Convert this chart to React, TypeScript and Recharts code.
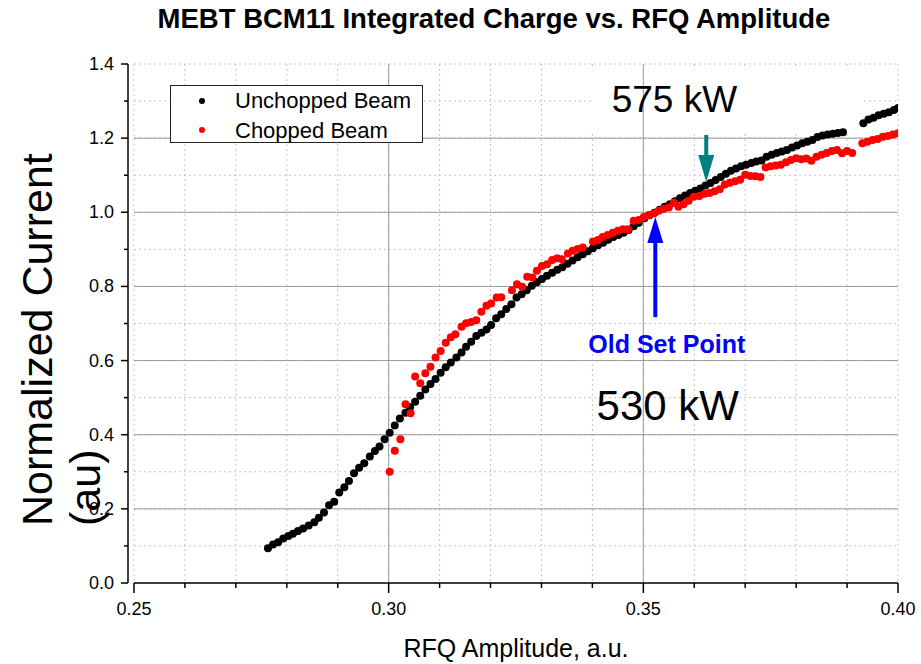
import React from 'react';
import {
  ScatterChart, Scatter, XAxis, YAxis, CartesianGrid, ReferenceLine, ReferenceDot, ReferenceArea, Legend,
} from 'recharts';

// [RFQ amplitude, normalized current]
const unchoppedBeam: [number, number][] = [
  [0.2763, 0.094], [0.2773, 0.104], [0.2783, 0.110], [0.2793, 0.120], [0.2803, 0.127], [0.2812, 0.133],
  [0.2822, 0.140], [0.2832, 0.147], [0.2843, 0.155], [0.2854, 0.164], [0.2863, 0.176], [0.2873, 0.190],
  [0.2883, 0.210], [0.2893, 0.219], [0.2903, 0.244], [0.2913, 0.258], [0.2922, 0.275], [0.2932, 0.296],
  [0.2942, 0.311], [0.2952, 0.323], [0.2963, 0.341], [0.2973, 0.356], [0.2982, 0.368], [0.2992, 0.388],
  [0.3002, 0.405], [0.3012, 0.425], [0.3022, 0.444], [0.3033, 0.459], [0.3042, 0.474], [0.3052, 0.489],
  [0.3062, 0.505], [0.3072, 0.522], [0.3082, 0.537], [0.3092, 0.550], [0.3102, 0.567], [0.3112, 0.582],
  [0.3122, 0.595], [0.3133, 0.608], [0.3143, 0.622], [0.3152, 0.637], [0.3162, 0.651], [0.3172, 0.666],
  [0.3182, 0.675], [0.3192, 0.684], [0.3201, 0.696], [0.3211, 0.714], [0.3221, 0.725], [0.3231, 0.739],
  [0.3241, 0.752], [0.3251, 0.770], [0.3261, 0.779], [0.3271, 0.790], [0.3281, 0.802], [0.3291, 0.811],
  [0.3301, 0.820], [0.3311, 0.829], [0.3321, 0.837], [0.3331, 0.845], [0.3341, 0.852], [0.3351, 0.861],
  [0.3361, 0.870], [0.3371, 0.879], [0.3381, 0.887], [0.3391, 0.895], [0.3401, 0.903], [0.3411, 0.911],
  [0.3421, 0.918], [0.3431, 0.926], [0.3441, 0.933], [0.3451, 0.939], [0.3461, 0.945], [0.3471, 0.952],
  [0.3481, 0.962], [0.3491, 0.972], [0.3502, 0.984], [0.3512, 0.992], [0.3522, 0.999], [0.3532, 1.007],
  [0.3542, 1.015], [0.3552, 1.022], [0.3562, 1.030], [0.3572, 1.038], [0.3582, 1.045], [0.3592, 1.052],
  [0.3602, 1.058], [0.3612, 1.064], [0.3622, 1.072], [0.3632, 1.079], [0.3642, 1.087], [0.3652, 1.095],
  [0.3662, 1.104], [0.3672, 1.112], [0.3682, 1.118], [0.3692, 1.124], [0.3702, 1.128], [0.3712, 1.133],
  [0.3722, 1.137], [0.3732, 1.140], [0.3742, 1.150], [0.3752, 1.155], [0.3762, 1.160], [0.3772, 1.164],
  [0.3782, 1.168], [0.3792, 1.175], [0.3802, 1.180], [0.3812, 1.186], [0.3822, 1.190], [0.3832, 1.195],
  [0.3842, 1.203], [0.3852, 1.207], [0.3862, 1.210], [0.3872, 1.212], [0.3882, 1.214], [0.3892, 1.216],
  [0.3932, 1.240], [0.3942, 1.250], [0.3952, 1.255], [0.3962, 1.262], [0.3972, 1.266], [0.3982, 1.270],
  [0.3992, 1.276], [0.4000, 1.281],
];

const choppedBeam: [number, number][] = [
  [0.3002, 0.300], [0.3012, 0.357], [0.3023, 0.388], [0.3033, 0.482], [0.3043, 0.458], [0.3052, 0.557],
  [0.3062, 0.539], [0.3072, 0.566], [0.3082, 0.583], [0.3092, 0.608], [0.3102, 0.626], [0.3112, 0.648],
  [0.3122, 0.663], [0.3131, 0.671], [0.3143, 0.691], [0.3152, 0.701], [0.3162, 0.704], [0.3172, 0.709],
  [0.3182, 0.732], [0.3192, 0.748], [0.3201, 0.754], [0.3212, 0.770], [0.3221, 0.771], [0.3242, 0.790],
  [0.3252, 0.806], [0.3262, 0.799], [0.3272, 0.826], [0.3282, 0.824], [0.3291, 0.842], [0.3301, 0.855],
  [0.3311, 0.860], [0.3321, 0.871], [0.3331, 0.876], [0.3340, 0.873], [0.3352, 0.889], [0.3361, 0.896],
  [0.3371, 0.901], [0.3381, 0.905], [0.3401, 0.921], [0.3411, 0.925], [0.3420, 0.933], [0.3430, 0.939],
  [0.3440, 0.945], [0.3450, 0.950], [0.3460, 0.954], [0.3470, 0.954], [0.3481, 0.977], [0.3491, 0.979],
  [0.3501, 0.987], [0.3511, 0.993], [0.3520, 0.997], [0.3530, 1.004], [0.3540, 1.009], [0.3550, 1.013],
  [0.3560, 1.026], [0.3569, 1.015], [0.3579, 1.022], [0.3589, 1.031], [0.3599, 1.042], [0.3610, 1.044],
  [0.3620, 1.050], [0.3630, 1.052], [0.3640, 1.057], [0.3650, 1.062], [0.3660, 1.075], [0.3670, 1.080],
  [0.3680, 1.084], [0.3690, 1.088], [0.3700, 1.101], [0.3710, 1.098], [0.3720, 1.097], [0.3730, 1.095],
  [0.3740, 1.121], [0.3750, 1.124], [0.3760, 1.126], [0.3770, 1.128], [0.3780, 1.135], [0.3790, 1.141],
  [0.3800, 1.146], [0.3810, 1.143], [0.3820, 1.145], [0.3830, 1.139], [0.3840, 1.150], [0.3850, 1.155],
  [0.3860, 1.160], [0.3870, 1.165], [0.3880, 1.168], [0.3890, 1.159], [0.3900, 1.165], [0.3910, 1.160],
  [0.3930, 1.186], [0.3940, 1.190], [0.3950, 1.195], [0.3960, 1.198], [0.3970, 1.204], [0.3980, 1.206],
  [0.3990, 1.210], [0.4000, 1.213],
];

const xTicks = [0.25, 0.26, 0.27, 0.28, 0.29, 0.3, 0.31, 0.32, 0.33, 0.34, 0.35, 0.36, 0.37, 0.38, 0.39, 0.4];
const yTicks = [0, 0.1, 0.2, 0.3, 0.4, 0.5, 0.6, 0.7, 0.8, 0.9, 1.0, 1.1, 1.2, 1.3, 1.4];
const xMajorGrid = [0.3, 0.35];
const yMajorGrid = [0.2, 0.4, 0.6, 0.8, 1.0, 1.2];

const FONT = '"Liberation Sans", Arial, sans-serif';

const toPoints = (rows: [number, number][]) => rows.map(([x, y]) => ({ x, y }));

const isMajorX = (v: number) => Math.round(v * 100) % 5 === 0;
const isMajorY = (v: number) => Math.round(v * 10) % 2 === 0;

const BottomTick = (props: any) => {
  const { x, y, payload } = props;
  const major = isMajorX(payload.value);
  return (
    <g>
      <line x1={x} x2={x} y1={y} y2={y + (major ? 10 : 5)} stroke="#000" strokeWidth={1.5} />
      {major && (
        <text x={x} y={y + 32} textAnchor="middle" fontSize={18} fill="#000">
          {payload.value.toFixed(2)}
        </text>
      )}
    </g>
  );
};

const TopTick = (props: any) => {
  const { x, y, payload } = props;
  const major = isMajorX(payload.value);
  return <line x1={x} x2={x} y1={y} y2={y + (major ? 9 : 5)} stroke="#000" strokeWidth={1.5} />;
};

const LeftTick = (props: any) => {
  const { x, y, payload } = props;
  const major = isMajorY(payload.value);
  const ax = x - 6;
  return (
    <g>
      <line x1={ax} x2={ax - (major ? 7 : 4)} y1={y} y2={y} stroke="#000" strokeWidth={1.5} />
      {major && (
        <text x={ax - 14} y={y + 6} textAnchor="end" fontSize={18} fill="#000">
          {payload.value.toFixed(1)}
        </text>
      )}
    </g>
  );
};

const RightTick = (props: any) => {
  const { x, y, payload } = props;
  const major = isMajorY(payload.value);
  return <line x1={x} x2={x - (major ? 8 : 4)} y1={y} y2={y} stroke="#000" strokeWidth={1.5} />;
};

const dot = (color: string) => (p: any) => <circle cx={p.cx} cy={p.cy} r={4} fill={color} />;

const UpArrow = (p: any) => (
  <g>
    <line x1={p.cx} x2={p.cx} y1={p.cy + 24} y2={p.cy + 100} stroke="#0000ff" strokeWidth={4} />
    <polygon points={`${p.cx},${p.cy} ${p.cx - 8},${p.cy + 26} ${p.cx + 8},${p.cy + 26}`} fill="#0000ff" />
  </g>
);

const DownArrow = (p: any) => (
  <g>
    <line x1={p.cx} x2={p.cx} y1={p.cy - 25} y2={p.cy - 47} stroke="#008080" strokeWidth={4} />
    <polygon points={`${p.cx},${p.cy} ${p.cx - 8},${p.cy - 27} ${p.cx + 8},${p.cy - 27}`} fill="#008080" />
  </g>
);

const LegendBox = () => (
  <svg width={253} height={58} style={{ display: 'block' }}>
    <rect x={0.5} y={0.5} width={252} height={57} fill="#fff" stroke="#222" strokeWidth={1} />
    <circle cx={32} cy={16} r={3} fill="#000" />
    <text x={65} y={23} fontSize={22} fill="#000">Unchopped Beam</text>
    <circle cx={32} cy={45} r={3} fill="#ff0000" />
    <text x={65} y={53} fontSize={22} fill="#000">Chopped Beam</text>
  </svg>
);

export default function App() {
  const unchopped = toPoints(unchoppedBeam);
  const chopped = toPoints(choppedBeam);
  return (
    <div style={{ position: 'absolute', left: 0, top: 0, width: 921, height: 664, background: '#fff', fontFamily: FONT }}>
      <ScatterChart width={921} height={664} margin={{ top: 64, right: 23, bottom: 0, left: 0 }}>
        <CartesianGrid stroke="#c4c4c4" strokeDasharray="2 3" />
        {xMajorGrid.map((v) => (
          <ReferenceLine key={`gx${v}`} x={v} stroke="#9a9a9a" strokeWidth={1} />
        ))}
        {yMajorGrid.map((v) => (
          <ReferenceLine key={`gy${v}`} y={v} stroke="#9a9a9a" strokeWidth={1} />
        ))}
        <XAxis
          type="number" dataKey="x" domain={[0.25, 0.4]} ticks={xTicks} interval={0} height={81}
          tickSize={0} tickMargin={0} tickLine={false} tick={<BottomTick />}
          axisLine={{ stroke: '#000', strokeWidth: 1.5 }} allowDataOverflow
          label={{ value: 'RFQ Amplitude, a.u.', position: 'insideBottom', offset: 7, fontSize: 25, fill: '#000' }}
        />
        <XAxis
          xAxisId="top" orientation="top" type="number" domain={[0.25, 0.4]} ticks={xTicks} interval={0} height={0}
          tickSize={0} tickMargin={0} tickLine={false} tick={<TopTick />}
          axisLine={{ stroke: '#000', strokeWidth: 1.5 }} allowDataOverflow
        />
        <YAxis
          type="number" dataKey="y" domain={[0, 1.4]} ticks={yTicks} interval={0} width={134}
          tickSize={0} tickMargin={0} tickLine={false} tick={<LeftTick />}
          axisLine={{ stroke: '#000', strokeWidth: 1.5, transform: 'translate(-6,0)' }} allowDataOverflow
        />
        <YAxis
          yAxisId="right" orientation="right" type="number" domain={[0, 1.4]} ticks={yTicks} interval={0} width={0}
          tickSize={0} tickMargin={0} tickLine={false} tick={<RightTick />}
          axisLine={{ stroke: '#000', strokeWidth: 1.5 }} allowDataOverflow
        />
        <Scatter name="Unchopped Beam" data={unchopped} fill="#000" shape={dot('#000')} isAnimationActive={false} />
        <Scatter name="Chopped Beam" data={chopped} fill="#ff0000" shape={dot('#ff0000')} isAnimationActive={false} />
        <ReferenceArea x1={0.3398} x2={0.3927} y1={1.219} y2={1.385} fill="#fff" fillOpacity={1} stroke="none" />
        <ReferenceDot x={0.3561} y={1.307} r={0} stroke="none"
          label={{ value: '575 kW', position: 'center', fontSize: 37, fill: '#000' }} />
        <ReferenceDot x={0.3548} y={0.48} r={0} stroke="none"
          label={{ value: '530 kW', position: 'center', fontSize: 42, fill: '#000' }} />
        <ReferenceDot x={0.3546} y={0.645} r={0} stroke="none"
          label={{ value: 'Old Set Point', position: 'center', fontSize: 25, fontWeight: 'bold', fill: '#0000ff' }} />
        <ReferenceDot x={0.35235} y={0.987} shape={<UpArrow />} />
        <ReferenceDot x={0.36235} y={1.082} shape={<DownArrow />} />
        <Legend
          layout="vertical" align="center" verticalAlign="middle" content={<LegendBox />}
          wrapperStyle={{ left: 170, top: 85, width: 253, height: 58 }}
        />
      </ScatterChart>
      <svg width={921} height={664} style={{ position: 'absolute', left: 0, top: 0, pointerEvents: 'none' }}>
        <text x={494} y={28} textAnchor="middle" fontSize={27.5} fontWeight="bold" fill="#000">
          MEBT BCM11 Integrated Charge vs. RFQ Amplitude
        </text>
        <text transform="translate(52,526) rotate(-90)" fontSize={43} fill="#000">
          <tspan x={0} y={0}>Normalized Current</tspan>
          <tspan x={0} dy={48}>(au)</tspan>
        </text>
      </svg>
    </div>
  );
}
